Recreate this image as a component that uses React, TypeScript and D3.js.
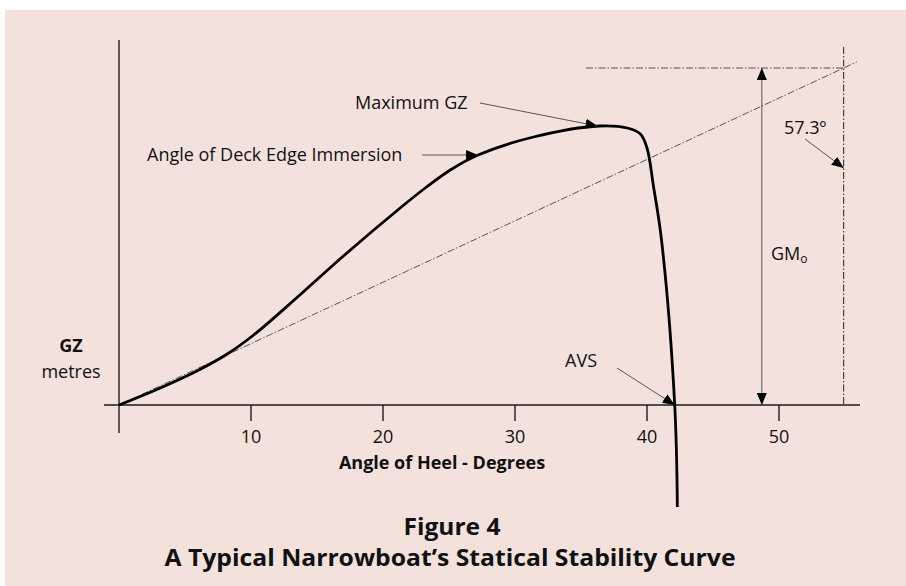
import React from 'react';
import * as d3 from 'd3';

// GZ curve (angle of heel in degrees, GZ in metres)
const heelAngles = [0, 2.6, 5.9, 8.2, 10.2, 13.7, 17, 21.3, 23.2, 25.1, 27.2, 31.4, 36.4, 38.5, 39.5, 40.0, 40.5, 41.1, 42.1, 42.3];
const gzValues = [0, 0.014, 0.034, 0.051, 0.07, 0.11, 0.149, 0.197, 0.217, 0.235, 0.25, 0.268, 0.279, 0.277, 0.271, 0.257, 0.218, 0.165, 0, -0.102];
const xTicks = [10, 20, 30, 40, 50];

const gm0 = 0.337; // height of the GM triangle
const oneRadian = 54.9; // where 57.3 deg lands on the drawn axis
const gmArrowAngle = 48.7;
const deckEdge = { angle: 27.2, gz: 0.25 };
const maxGz = { angle: 36.4, gz: 0.279 };
const avs = { angle: 42.1, gz: 0 };

const W = 906;
const H = 586;
const BG = '#f3e2dc';
const FONT = "'Open Sans', 'Noto Sans', sans-serif";

export default function App() {
	const x = d3.scaleLinear().domain([0, 50]).range([119, 779]);
	const y = d3.scaleLinear().domain([0, 0.3]).range([405, 105]);

	const pts: [number, number][] = heelAngles.map((a, i) => [a, gzValues[i]]);
	const curve = d3
		.line<[number, number]>()
		.x(d => x(d[0]))
		.y(d => y(d[1]))
		.curve(d3.curveCatmullRom.alpha(0.5))(pts) as string;

	const tanEnd = 55.9;
	const tangent = d3.line<[number, number]>().x(d => x(d[0])).y(d => y(d[1]))([
		[0, 0],
		[tanEnd, (gm0 * tanEnd) / oneRadian],
	]) as string;

	const dashDot = '7,2,1.5,2';

	return (
		<svg width={W} height={H} style={{ position: 'absolute', left: 0, top: 0 }} fontFamily={FONT}>
			<defs>
				<marker id="ah" viewBox="0 0 12 10" refX={12} refY={5} markerWidth={12} markerHeight={10} markerUnits="userSpaceOnUse" orient="auto-start-reverse">
					<path d="M0,0 L12,5 L0,10 z" fill="#000" />
				</marker>
			</defs>
			<rect x={0} y={0} width={W} height={H} fill="#fff" />
			<rect x={5} y={10} width={W - 5} height={H - 10} fill={BG} />

			{/* axes */}
			<line x1={x(0)} x2={x(0)} y1={40} y2={433} stroke="#1a1a1a" strokeWidth={1.4} />
			<line x1={104} x2={860} y1={y(0)} y2={y(0)} stroke="#1a1a1a" strokeWidth={1.4} />
			{xTicks.map(t => (
				<g key={t}>
					<line x1={x(t)} x2={x(t)} y1={y(0)} y2={y(0) + 16} stroke="#1a1a1a" strokeWidth={1.4} />
					<text x={x(t)} y={443} textAnchor="middle" fontSize={18} fill="#111">
						{t}
					</text>
				</g>
			))}
			<text x={442} y={469} textAnchor="middle" fontSize={18} fontWeight="bold" fill="#111">
				Angle of Heel - Degrees
			</text>
			<text x={71} y={352} textAnchor="middle" fontSize={18} fontWeight="bold" fill="#111">
				GZ
			</text>
			<text x={71} y={378} textAnchor="middle" fontSize={18} fill="#111">
				metres
			</text>

			{/* GM construction */}
			<path d={tangent} fill="none" stroke="#555" strokeWidth={1} strokeDasharray={dashDot} />
			<line x1={586} x2={x(oneRadian)} y1={y(gm0)} y2={y(gm0)} stroke="#555" strokeWidth={1} strokeDasharray={dashDot} />
			<line x1={x(oneRadian)} x2={x(oneRadian)} y1={47} y2={y(0)} stroke="#222" strokeWidth={1} strokeDasharray={dashDot} />
			<line
				x1={x(gmArrowAngle)}
				x2={x(gmArrowAngle)}
				y1={y(gm0)}
				y2={y(0)}
				stroke="#555"
				strokeWidth={1}
				markerStart="url(#ah)"
				markerEnd="url(#ah)"
			/>
			<text x={771} y={260} fontSize={18} fill="#111">
				GM
				<tspan fontSize={12} dy={3}>o</tspan>
			</text>
			<text x={784} y={134} fontSize={18} fill="#111">
				57.3º
			</text>
			<line x1={805} y1={139} x2={x(oneRadian)} y2={168} stroke="#555" strokeWidth={1} markerEnd="url(#ah)" />

			{/* GZ curve */}
			<path d={curve} fill="none" stroke="#000" strokeWidth={2.8} strokeLinejoin="round" />

			{/* annotations */}
			<text x={355} y={109} fontSize={18} fill="#111">
				Maximum GZ
			</text>
			<line x1={480} y1={103} x2={x(maxGz.angle) - 2} y2={y(maxGz.gz)} stroke="#555" strokeWidth={1} markerEnd="url(#ah)" />
			<text x={147} y={161} fontSize={18} fill="#111">
				Angle of Deck Edge Immersion
			</text>
			<line x1={422} y1={y(deckEdge.gz)} x2={x(deckEdge.angle)} y2={y(deckEdge.gz)} stroke="#555" strokeWidth={1} markerEnd="url(#ah)" />
			<text x={597} y={367} textAnchor="end" fontSize={18} fill="#111">
				AVS
			</text>
			<line x1={617} y1={368} x2={x(avs.angle)} y2={y(avs.gz)} stroke="#555" strokeWidth={1} markerEnd="url(#ah)" />

			{/* caption */}
			<text x={452} y={535} textAnchor="middle" fontSize={24} fontWeight="bold" fill="#111" textLength={97} lengthAdjust="spacingAndGlyphs">
				Figure 4
			</text>
			<text x={450} y={566} textAnchor="middle" fontSize={24} fontWeight="bold" fill="#111" textLength={571} lengthAdjust="spacingAndGlyphs">
				A Typical Narrowboat’s Statical Stability Curve
			</text>
		</svg>
	);
}
